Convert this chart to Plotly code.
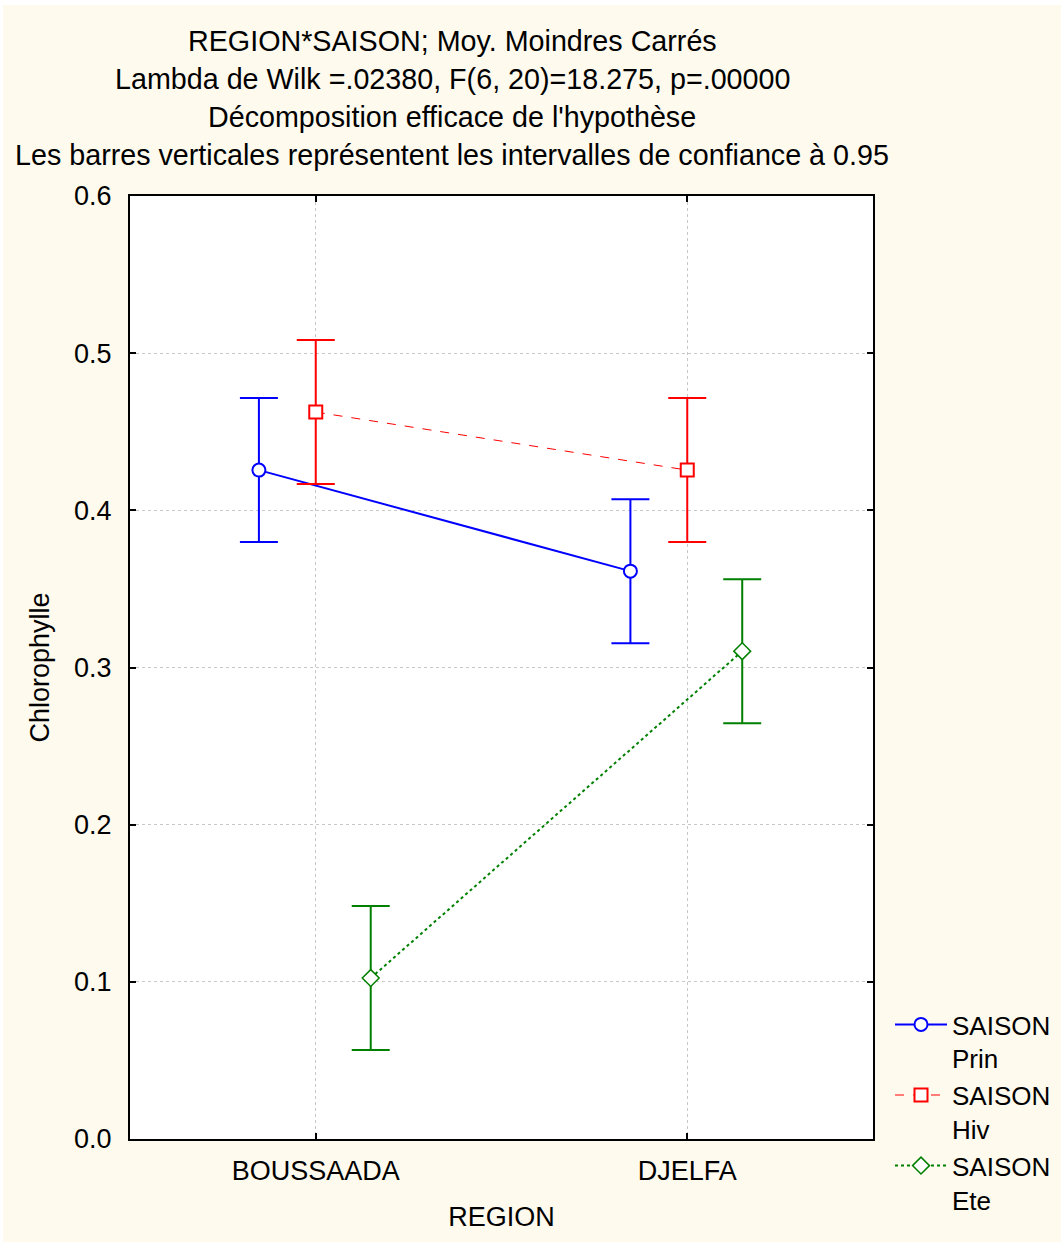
import plotly.graph_objects as go

# ---- data ----
regions = ["BOUSSAADA", "DJELFA"]
series_names = ["SAISON<br>Prin", "SAISON<br>Hiv", "SAISON<br>Ete"]
prin_means = [0.4256, 0.3613]
hiv_means = [0.4625, 0.4256]
ete_means = [0.1024, 0.3104]
prin_ci = [0.0458, 0.0458]
hiv_ci = [0.0458, 0.0458]
ete_ci = [0.0458, 0.0458]
y_ticks = [0.0, 0.1, 0.2, 0.3, 0.4, 0.5, 0.6]
title_lines = [
    "REGION*SAISON; Moy. Moindres Carrés",
    "Lambda de Wilk =.02380, F(6, 20)=18.275, p=.00000",
    "Décomposition efficace de l'hypothèse",
    "Les barres verticales représentent les intervalles de confiance à 0.95",
]

# ---- layout geometry ----
W, H = 1064, 1245
L, R, T, B = 130, 873, 196, 1139
FONT = "Liberation Sans, Arial, sans-serif"
FS = 27
TFS = 28.7
LFS = 26
CREAM = "#FEFAEE"

def px_x(p):
    return (p - L) / (R - L)

def px_y(p):
    return (B - p) / (B - T)

styles = [
    dict(color="#0000FF", dash="solid", lw=2, symbol="circle", size=13, off=-0.153, mlw=2),
    dict(color="#FF0000", dash="dash", lw=1, symbol="square", size=13, off=0.0, mlw=2),
    dict(color="#008000", dash="dot", lw=2, symbol="diamond", size=13, off=0.148, mlw=1.5),
]
means = [prin_means, hiv_means, ete_means]
cis = [prin_ci, hiv_ci, ete_ci]

fig = go.Figure()
for name, m, ci, st in zip(series_names, means, cis, styles):
    xs = [i + st["off"] for i in range(len(regions))]
    fig.add_trace(go.Scatter(
        x=xs, y=m, name=name, mode="lines+markers",
        line=dict(color=st["color"], width=st["lw"], dash=st["dash"]),
        marker=dict(symbol=st["symbol"], size=st["size"], color="white",
                    line=dict(color=st["color"], width=st["mlw"])),
        error_y=dict(type="data", array=ci, visible=True, color=st["color"],
                     thickness=2, width=19),
        cliponaxis=False,
    ))

annotations = []
for i, txt in enumerate(title_lines):
    annotations.append(dict(
        text=txt, xref="paper", yref="paper", x=px_x(452), y=px_y(41 + 38 * i),
        xanchor="center", yanchor="middle", showarrow=False,
        font=dict(family=FONT, size=TFS, color="black"),
    ))

shapes = [
    dict(type="rect", xref="paper", yref="paper", layer="below",
         x0=px_x(3), x1=px_x(1061), y0=px_y(1242), y1=px_y(5),
         fillcolor=CREAM, line=dict(width=0)),
    dict(type="rect", xref="paper", yref="paper", layer="below",
         x0=0, x1=1, y0=0, y1=1, fillcolor="white", line=dict(width=0)),
]

fig.update_layout(
    width=W, height=H,
    margin=dict(l=L, r=W - R, t=T, b=H - B, autoexpand=False),
    paper_bgcolor="white", plot_bgcolor="white",
    font=dict(family=FONT, size=FS, color="black"),
    annotations=annotations, shapes=shapes,
    showlegend=True,
    legend=dict(x=px_x(890), y=px_y(1001), xanchor="left", yanchor="top",
                bgcolor="rgba(0,0,0,0)", font=dict(family=FONT, size=LFS),
                valign="top", itemwidth=52, tracegroupgap=0),
    xaxis=dict(
        range=[-0.5, 1.5], tickvals=list(range(len(regions))), ticktext=regions,
        showgrid=True, gridcolor="#C8C8C8", griddash="dot", gridwidth=1,
        zeroline=False, showline=True, linecolor="black", linewidth=2, mirror="ticks",
        ticks="inside", ticklen=6, tickcolor="black", tickwidth=2,
        ticklabelstandoff=7,
        title=dict(text="REGION", font=dict(family=FONT, size=FS), standoff=22),
    ),
    yaxis=dict(
        range=[0, 0.6], tickvals=y_ticks, tickformat=".1f",
        showgrid=True, gridcolor="#C8C8C8", griddash="dot", gridwidth=1,
        zeroline=False, showline=True, linecolor="black", linewidth=2, mirror="ticks",
        ticks="inside", ticklen=6, tickcolor="black", tickwidth=2,
        ticklabelstandoff=11,
        title=dict(text="Chlorophylle", font=dict(family=FONT, size=FS), standoff=17),
    ),
)

fig.write_html("out.html")
